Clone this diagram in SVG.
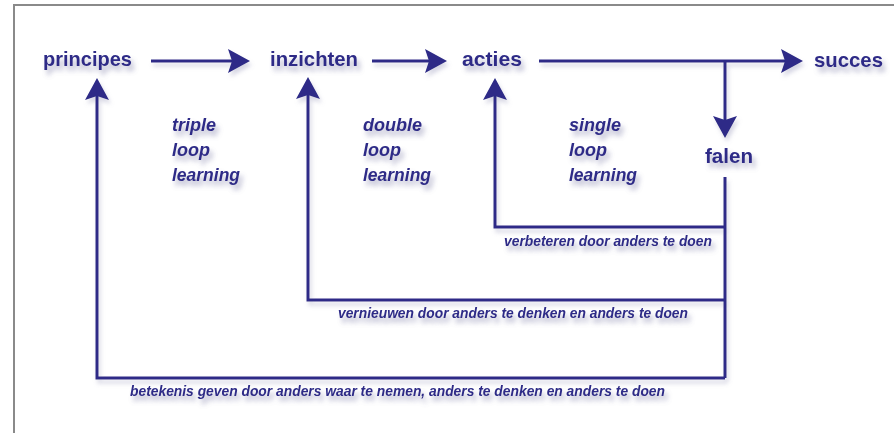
<svg xmlns="http://www.w3.org/2000/svg" width="894" height="433" viewBox="0 0 894 433">
<style>
.node{font-family:"Liberation Sans",Arial,sans-serif;font-weight:bold;font-size:21px;fill:#2d2b87}
.loop{font-family:"Liberation Sans",Arial,sans-serif;font-weight:bold;font-style:italic;font-size:18px;fill:#2d2b87}
.lbl{font-family:"Liberation Sans",Arial,sans-serif;font-weight:bold;font-style:italic;font-size:14px;fill:#2d2b87}
.ln{fill:none;stroke:#2d2b87;stroke-width:3}
</style>
<defs>
<filter id="sh" x="-20%" y="-40%" width="150%" height="220%">
<feGaussianBlur in="SourceAlpha" stdDeviation="2.5"/>
<feOffset dx="3" dy="5" result="b"/>
<feFlood flood-color="#6a6a9a" flood-opacity="0.5"/>
<feComposite in2="b" operator="in"/>
<feMerge><feMergeNode/><feMergeNode in="SourceGraphic"/></feMerge>
</filter>
<filter id="shl" x="-5%" y="-5%" width="110%" height="110%">
<feGaussianBlur in="SourceAlpha" stdDeviation="2"/>
<feOffset dx="2" dy="4" result="b"/>
<feFlood flood-color="#8a8ab0" flood-opacity="0.35"/>
<feComposite in2="b" operator="in"/>
<feMerge><feMergeNode/><feMergeNode in="SourceGraphic"/></feMerge>
</filter>
<marker id="ah" markerUnits="userSpaceOnUse" viewBox="0 0 22 24" refX="14" refY="12" markerWidth="22" markerHeight="24" orient="auto">
<path d="M0,0 L22,12 L0,24 L4,12 z" fill="#2d2b87"/>
</marker>
</defs>
<rect width="894" height="433" fill="#ffffff"/>
<path d="M14,433 V5 H894" fill="none" stroke="#8a8a8a" stroke-width="2"/>

<g id="connectors" filter="url(#shl)">
<path class="ln" d="M151,61 H242" marker-end="url(#ah)"/>
<path class="ln" d="M372,61 H439" marker-end="url(#ah)"/>
<path class="ln" d="M539,61 H795" marker-end="url(#ah)"/>
<path class="ln" d="M725,61 V130" marker-end="url(#ah)"/>
<path class="ln" d="M725,177 V378"/>
<path class="ln" d="M725,227 H495 V86" marker-end="url(#ah)"/>
<path class="ln" d="M725,300 H308 V85" marker-end="url(#ah)"/>
<path class="ln" d="M725,378 H97 V86" marker-end="url(#ah)"/>
</g>

<g id="principes" filter="url(#sh)"><text class="node" x="43" y="66" textLength="89" lengthAdjust="spacingAndGlyphs">principes</text></g>
<g id="inzichten" filter="url(#sh)"><text class="node" x="270" y="66" textLength="88" lengthAdjust="spacingAndGlyphs">inzichten</text></g>
<g id="acties" filter="url(#sh)"><text class="node" x="462" y="66" textLength="60" lengthAdjust="spacingAndGlyphs">acties</text></g>
<g id="succes" filter="url(#sh)"><text class="node" x="814" y="67" textLength="69" lengthAdjust="spacingAndGlyphs">succes</text></g>
<g id="falen" filter="url(#sh)"><text class="node" x="705" y="163" textLength="48" lengthAdjust="spacingAndGlyphs">falen</text></g>

<g id="triple" filter="url(#sh)">
<text class="loop" x="172" y="131">triple</text>
<text class="loop" x="172" y="156">loop</text>
<text class="loop" x="172" y="181" textLength="68" lengthAdjust="spacingAndGlyphs">learning</text>
</g>
<g id="double" filter="url(#sh)">
<text class="loop" x="363" y="131">double</text>
<text class="loop" x="363" y="156">loop</text>
<text class="loop" x="363" y="181" textLength="68" lengthAdjust="spacingAndGlyphs">learning</text>
</g>
<g id="single" filter="url(#sh)">
<text class="loop" x="569" y="131">single</text>
<text class="loop" x="569" y="156">loop</text>
<text class="loop" x="569" y="181" textLength="68" lengthAdjust="spacingAndGlyphs">learning</text>
</g>

<g id="label-verbeteren" filter="url(#sh)"><text class="lbl" x="504" y="246" textLength="208" lengthAdjust="spacingAndGlyphs">verbeteren door anders te doen</text></g>
<g id="label-vernieuwen" filter="url(#sh)"><text class="lbl" x="338" y="318" textLength="350" lengthAdjust="spacingAndGlyphs">vernieuwen door anders te denken en anders te doen</text></g>
<g id="label-betekenis" filter="url(#sh)"><text class="lbl" x="130" y="396" textLength="535" lengthAdjust="spacingAndGlyphs">betekenis geven door anders waar te nemen, anders te denken en anders te doen</text></g>
</svg>
